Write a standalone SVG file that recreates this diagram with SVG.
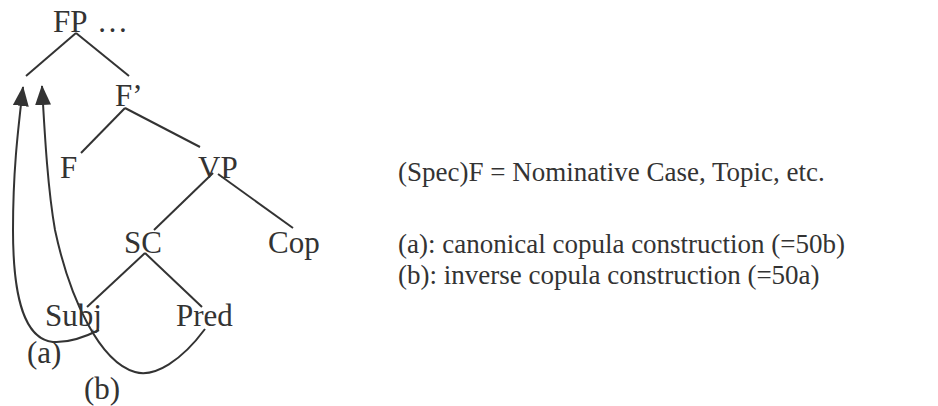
<svg xmlns="http://www.w3.org/2000/svg" width="938" height="406" viewBox="0 0 938 406">
<style>
text{font-family:"Liberation Serif","Times New Roman",serif;fill:#333;}
.t{font-size:31px;}
.r{font-size:27px;}
line,path{stroke:#333;stroke-width:2;fill:none;}
</style>
<defs>
<marker id="ah" viewBox="0 0 20 16" refX="19" refY="8" markerWidth="20" markerHeight="16" markerUnits="userSpaceOnUse" orient="auto">
<path d="M0,0 L20,8 L0,16 Z" style="fill:#333;stroke:none"/>
</marker>
</defs>
<rect width="938" height="406" fill="#fff"/>
<g id="FP"><text class="t" x="53" y="32">FP</text><text class="t" x="97" y="32">…</text></g>
<g id="Fbar"><text class="t" x="115" y="106">F’</text></g>
<g id="F"><text class="t" x="60" y="178">F</text></g>
<g id="VP"><text class="t" x="198" y="178">VP</text></g>
<g id="SC"><text class="t" x="124" y="253">SC</text></g>
<g id="Cop"><text class="t" x="268" y="253">Cop</text></g>
<g id="Subj"><text class="t" x="45" y="326">Subj</text></g>
<g id="Pred"><text class="t" x="176" y="326">Pred</text></g>
<g id="labels">
<text class="t" x="27" y="363">(a)</text>
<text class="t" x="84" y="399">(b)</text>
</g>
<g id="legend">
<text class="r" x="398" y="181">(Spec)F = Nominative Case, Topic, etc.</text>
<text class="r" x="398" y="253">(a): canonical copula construction (=50b)</text>
<text class="r" x="398" y="284">(b): inverse copula construction (=50a)</text>
</g>
<g id="connectors">
<line x1="76" y1="33" x2="26" y2="76"/>
<line x1="76" y1="33" x2="129" y2="76"/>
<line x1="125" y1="108" x2="81" y2="153"/>
<line x1="125" y1="108" x2="200" y2="147"/>
<line x1="213" y1="173" x2="154" y2="230"/>
<line x1="218" y1="174" x2="293" y2="228"/>
<line x1="145" y1="253" x2="87" y2="307"/>
<line x1="145" y1="253" x2="202" y2="307"/>
<path d="M99,330 C85,337 68,343 53,342 C25,339 13,300 13,230 C13,170 18,130 23,87" marker-end="url(#ah)"/>
<path d="M205,329 C182,360 155,378 135,372 C100,362 70,300 55,230 C48,190 45,140 42,86" marker-end="url(#ah)"/>
</g>
</svg>
